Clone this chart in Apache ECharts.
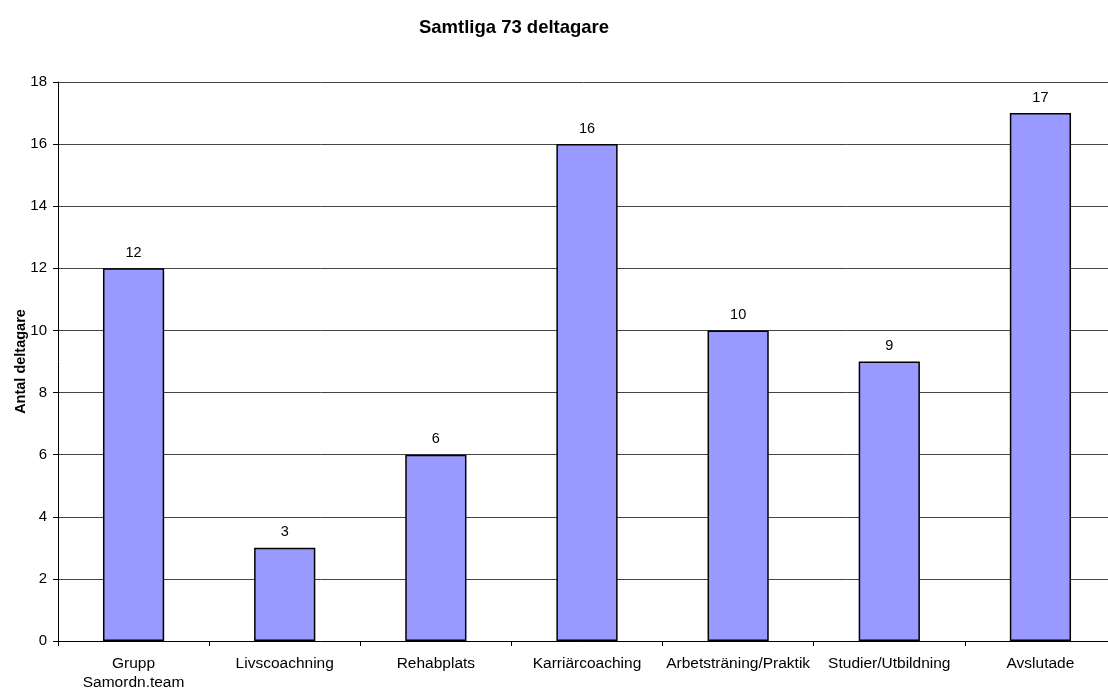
<!DOCTYPE html>
<html><head><meta charset="utf-8">
<script src="https://cdn.jsdelivr.net/npm/echarts@6/dist/echarts.min.js"></script>
<style>html,body{margin:0;padding:0;background:#fff;overflow:hidden}#c{width:1108px;height:691px}</style>
</head><body><div id="c"></div>
<script>
var categories = ["Grupp\nSamordn.team","Livscoachning","Rehabplats","Karriärcoaching","Arbetsträning/Praktik","Studier/Utbildning","Avslutade"];
var values = [12,3,6,16,10,9,17];
var yTicks = [0,2,4,6,8,10,12,14,16,18];
var chart = echarts.init(document.getElementById('c'));
var font = 'Liberation Sans, Arial, sans-serif';
chart.setOption({
  animation:false,
  backgroundColor:'#fff',
  title:{text:'Samtliga 73 deltagare',left:509,top:13,textAlign:'center',textStyle:{fontFamily:font,fontSize:18.5,fontWeight:'bold',color:'#000'}},
  grid:{left:58,top:82,width:1058,height:559,containLabel:false,outerBoundsMode:'none'},
  xAxis:{type:'category',data:categories,
    axisLine:{lineStyle:{color:'#000',width:1}},
    axisTick:{show:true,alignWithLabel:false,length:5,lineStyle:{color:'#000'}},
    axisLabel:{fontFamily:font,fontSize:15.5,color:'#000',margin:13,lineHeight:19,interval:0,hideOverlap:false}},
  yAxis:{type:'value',min:yTicks[0],max:yTicks[yTicks.length-1],interval:2,
    name:'Antal deltagare',nameLocation:'middle',nameGap:30,nameMoveOverlap:false,
    nameTextStyle:{fontFamily:font,fontSize:14.5,fontWeight:'bold',color:'#000'},
    axisLine:{show:true,lineStyle:{color:'#000'}},
    axisTick:{show:true,length:5,lineStyle:{color:'#000'}},
    axisLabel:{fontFamily:font,fontSize:15,color:'#000',margin:11},
    splitLine:{lineStyle:{color:'#444',width:1}}},
  series:[{type:'bar',data:values,barWidth:'40.5%',
    itemStyle:{color:'#9999FF',borderColor:'#000',borderWidth:1.5},
    label:{show:true,position:'top',distance:8,fontFamily:font,fontSize:14.5,color:'#000'}}]
});
</script></body></html>
